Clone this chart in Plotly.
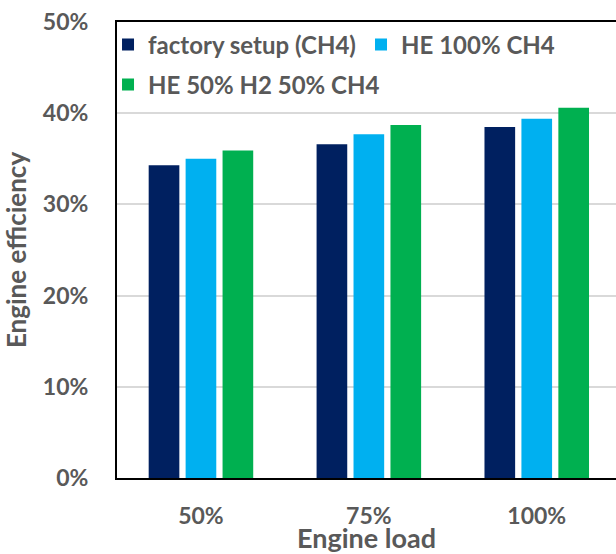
import plotly.graph_objects as go

categories = ["50%", "75%", "100%"]
series_names = ["factory setup (CH4)", "HE 100% CH4", "HE 50% H2 50% CH4"]
factory = [0.343, 0.366, 0.385]
he_ch4 = [0.350, 0.377, 0.394]
he_h2 = [0.359, 0.387, 0.406]
y_ticks = [0, 0.1, 0.2, 0.3, 0.4, 0.5]
y_tick_labels = ["0%", "10%", "20%", "30%", "40%", "50%"]

colors = ["#002060", "#00B0F0", "#00B050"]
legend_ids = ["legend", "legend2", "legend3"]
FONT = "Lato"
GRAY = "#595959"

fig = go.Figure()
for name, vals, col, lg in zip(series_names, [factory, he_ch4, he_h2], colors, legend_ids):
    fig.add_trace(go.Bar(x=categories, y=vals, name=name, legend=lg,
                         marker=dict(color=col, line=dict(width=0))))

legend_font = dict(family=FONT, size=24, color=GRAY, weight="bold")
def leg(x, y):
    return dict(x=x, y=y, xanchor="left", yanchor="middle", font=legend_font,
                bgcolor="rgba(0,0,0,0)", itemsizing="constant")

fig.update_layout(
    width=616, height=554,
    margin=dict(l=117, r=0, t=22, b=76),
    paper_bgcolor="white", plot_bgcolor="white",
    barmode="group", bargap=0.34, bargroupgap=0.17,
    font=dict(family=FONT, color=GRAY, size=20),
    showlegend=True,
    legend=leg(-0.018, 0.9496),
    legend2=leg(0.489, 0.9496),
    legend3=leg(-0.018, 0.8618),
    xaxis=dict(range=[-0.5, 2.472], showline=True, linecolor="black", linewidth=2, mirror=True,
               showgrid=False, ticks="", ticklabelstandoff=16,
               tickfont=dict(family=FONT, size=23, color=GRAY, weight="bold"),
               title=dict(text="Engine load", standoff=2,
                          font=dict(family=FONT, size=27, color=GRAY, weight="bold"))),
    yaxis=dict(range=[0, 0.5], tickvals=y_ticks, ticktext=y_tick_labels,
               showline=True, linecolor="black", linewidth=2, mirror=False,
               showgrid=True, gridcolor="#D9D9D9", gridwidth=1.5, zeroline=False,
               ticks="", ticklabelstandoff=22,
               tickfont=dict(family=FONT, size=23, color=GRAY, weight="bold"),
               title=dict(text="Engine efficiency", standoff=10,
                          font=dict(family=FONT, size=26, color=GRAY, weight="bold"))),
)

fig.write_html("out.html", config={"displayModeBar": False},
               post_script="document.body.style.margin='0';document.body.style.overflow='hidden';")
